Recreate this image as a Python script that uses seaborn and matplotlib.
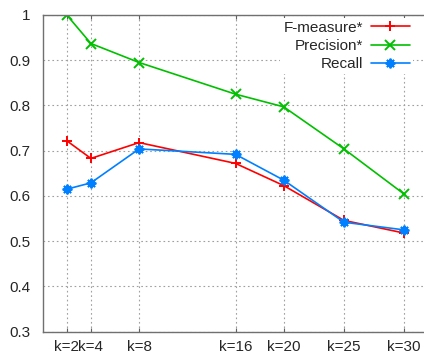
import pandas as pd
import matplotlib.pyplot as plt
import seaborn as sns

k_values = [2, 4, 8, 16, 20, 25, 30]
tick_labels = ['k=2', 'k=4', 'k=8', 'k=16', 'k=20', 'k=25', 'k=30']
f_measure = [0.722, 0.683, 0.718, 0.672, 0.623, 0.546, 0.518]
precision = [1.000, 0.937, 0.895, 0.825, 0.797, 0.704, 0.604]
recall = [0.615, 0.629, 0.704, 0.692, 0.635, 0.542, 0.525]
series_names = ['F-measure*', 'Precision*', 'Recall']
series_values = [f_measure, precision, recall]
colors = ['#ff0000', '#00c000', '#0080ff']
marker_styles = ['+', 'x', (8, 2, 0)]

sns.set_style('white')
plt.rcParams['font.family'] = ['Liberation Sans', 'DejaVu Sans']

fig = plt.figure(figsize=(4.24, 3.53), dpi=100)
ax = fig.add_axes([42.7 / 424, 21.3 / 353, (424 - 42.7) / 424, (331.7 - 15) / 353])

for name, vals, col, mk in zip(series_names, series_values, colors, marker_styles):
    df = pd.DataFrame({'k': k_values, 'value': vals})
    sns.lineplot(data=df, x='k', y='value', color=col, marker=mk, label=name,
                 linewidth=1.2, markersize=7, markeredgewidth=1.4,
                 markeredgecolor=col, ax=ax)

ax.set_xlim(0, (424 - 42.7) / 12.05)
ax.set_ylim(0.3, 1.0)
ax.set_xticks(k_values)
ax.set_xticklabels(tick_labels)
ax.set_yticks([0.3, 0.4, 0.5, 0.6, 0.7, 0.8, 0.9, 1.0])
ax.set_yticklabels(['0.3', '0.4', '0.5', '0.6', '0.7', '0.8', '0.9', '1'])
ax.set_xlabel('')
ax.set_ylabel('')
ax.grid(True, color='#a0a0a0', linestyle=(0, (1.5, 2.5)), linewidth=0.8)
ax.tick_params(axis='x', direction='in', length=3, color='#606060', labelsize=11,
               pad=6, top=True, bottom=True)
ax.tick_params(axis='y', direction='in', length=0, labelsize=11, pad=9)
for s in ['left', 'bottom', 'top']:
    ax.spines[s].set_color('#707070')
    ax.spines[s].set_linewidth(1.0)
ax.spines['right'].set_visible(False)

leg = ax.legend(loc='upper right', bbox_to_anchor=(421 / 424, 1 - 10 / 353),
                bbox_transform=fig.transFigure, markerfirst=False, fontsize=11,
                handlelength=2.6, handletextpad=0.5, labelspacing=0.28,
                borderpad=0.2, frameon=True, fancybox=False, framealpha=1)
leg.get_frame().set_edgecolor('none')
leg.get_frame().set_facecolor('white')

fig.savefig('out.png', dpi=100)
